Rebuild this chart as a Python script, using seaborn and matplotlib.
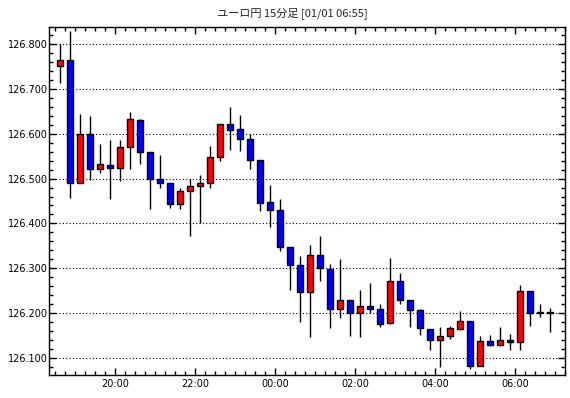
import numpy as np
import pandas as pd
import matplotlib
matplotlib.use("Agg")
import matplotlib.pyplot as plt
import matplotlib.dates as mdates
from matplotlib.ticker import MultipleLocator, FormatStrFormatter
import seaborn as sns

title = "ユーロ円 15分足 [01/01 06:55]"
start_time = "2021-12-31 18:30"
n_bars = 50

opens = [126.751, 126.764, 126.489, 126.598, 126.522, 126.531, 126.524, 126.571, 126.631, 126.558,
         126.500, 126.489, 126.444, 126.473, 126.484, 126.489, 126.547, 126.622, 126.609, 126.587,
         126.542, 126.447, 126.431, 126.348, 126.307, 126.248, 126.331, 126.299, 126.211, 126.231,
         126.200, 126.216, 126.209, 126.178, 126.273, 126.231, 126.207, 126.166, 126.140, 126.151,
         126.166, 126.184, 126.084, 126.138, 126.131, 126.142, 126.136, 126.249, 126.204, 126.204]
closes = [126.764, 126.489, 126.598, 126.522, 126.533, 126.524, 126.571, 126.632, 126.558, 126.500,
          126.489, 126.444, 126.473, 126.484, 126.489, 126.547, 126.622, 126.607, 126.587, 126.542,
          126.446, 126.431, 126.348, 126.307, 126.248, 126.331, 126.302, 126.211, 126.231, 126.200,
          126.216, 126.209, 126.176, 126.273, 126.231, 126.207, 126.167, 126.140, 126.151, 126.167,
          126.184, 126.084, 126.138, 126.131, 126.142, 126.136, 126.249, 126.202, 126.201, 126.200]
highs = [126.800, 126.828, 126.643, 126.639, 126.576, 126.585, 126.585, 126.647, 126.633, 126.558,
         126.552, 126.491, 126.478, 126.500, 126.507, 126.572, 126.622, 126.659, 126.641, 126.600,
         126.542, 126.485, 126.454, 126.348, 126.328, 126.353, 126.373, 126.310, 126.320, 126.231,
         126.252, 126.268, 126.222, 126.324, 126.290, 126.231, 126.211, 126.166, 126.171, 126.173,
         126.205, 126.184, 126.150, 126.152, 126.170, 126.154, 126.263, 126.251, 126.221, 126.213]
lows = [126.713, 126.457, 126.489, 126.497, 126.513, 126.455, 126.495, 126.521, 126.533, 126.433,
        126.479, 126.435, 126.433, 126.373, 126.400, 126.479, 126.539, 126.564, 126.561, 126.521,
        126.428, 126.393, 126.339, 126.252, 126.180, 126.148, 126.273, 126.168, 126.190, 126.150,
        126.148, 126.200, 126.170, 126.176, 126.220, 126.170, 126.153, 126.118, 126.080, 126.144,
        126.164, 126.077, 126.084, 126.128, 126.127, 126.119, 126.118, 126.173, 126.193, 126.159]

sns.set_theme(style="white")
plt.rcParams['font.family'] = ['DejaVu Sans']

times = pd.date_range(start_time, periods=n_bars, freq="15min") + pd.Timedelta(minutes=7.5)
df = pd.DataFrame({"time": times, "open": opens, "high": highs, "low": lows, "close": closes})
df["x"] = mdates.date2num(df["time"])
df["up"] = df["close"] >= df["open"]
df["bottom"] = df[["open", "close"]].min(axis=1)
df["height"] = (df["close"] - df["open"]).abs().clip(lower=0.0008)

fig = plt.figure(figsize=(5.70, 3.98), dpi=100, facecolor="white")
ax = fig.add_axes([49/570, (398-375)/398, (565-49)/570, (375-27)/398])
ax.set_facecolor("white")

bar_w = 9.5 / 1440.0
ax.vlines(df["x"], df["low"], df["high"], color="black", lw=1.0, zorder=2)
ax.bar(df["x"], df["height"], bottom=df["bottom"], width=bar_w,
       color=np.where(df["up"], "#ff0000", "#0000ff"), edgecolor="black", linewidth=1.0, zorder=3)

x0 = mdates.date2num(pd.Timestamp("2021-12-31 18:21"))
x1 = mdates.date2num(pd.Timestamp("2022-01-01 07:15"))
ax.set_xlim(x0, x1)
ax.set_ylim(126.0633, 126.8367)

ax.xaxis.set_major_locator(mdates.HourLocator(byhour=range(0, 24, 2)))
ax.xaxis.set_minor_locator(mdates.MinuteLocator(byminute=[0, 15, 30, 45]))
ax.xaxis.set_major_formatter(mdates.DateFormatter("%H:%M"))
ax.yaxis.set_major_locator(MultipleLocator(0.1))
ax.yaxis.set_minor_locator(MultipleLocator(0.02))
ax.yaxis.set_major_formatter(FormatStrFormatter("%.3f"))

ax.tick_params(which="both", direction="in", top=True, right=True, bottom=True, left=True,
               colors="black", width=1.0, labelsize=7)
ax.tick_params(which="major", length=5, pad=3)
ax.tick_params(which="minor", length=3)
ax.tick_params(axis="y", which="major", pad=1)

ax.yaxis.grid(True, which="major", color="black", linestyle=(0, (1, 2)), linewidth=0.8)
ax.xaxis.grid(False)
ax.set_axisbelow(True)
for s in ax.spines.values():
    s.set_visible(True)
    s.set_color("black")
    s.set_linewidth(1.0)

fig.text(292/570, (398-13)/398, title, ha="center", va="center", fontsize=8,
         family=["Noto Sans CJK JP", "DejaVu Sans"])

fig.savefig("out.png", dpi=100, facecolor="white")
